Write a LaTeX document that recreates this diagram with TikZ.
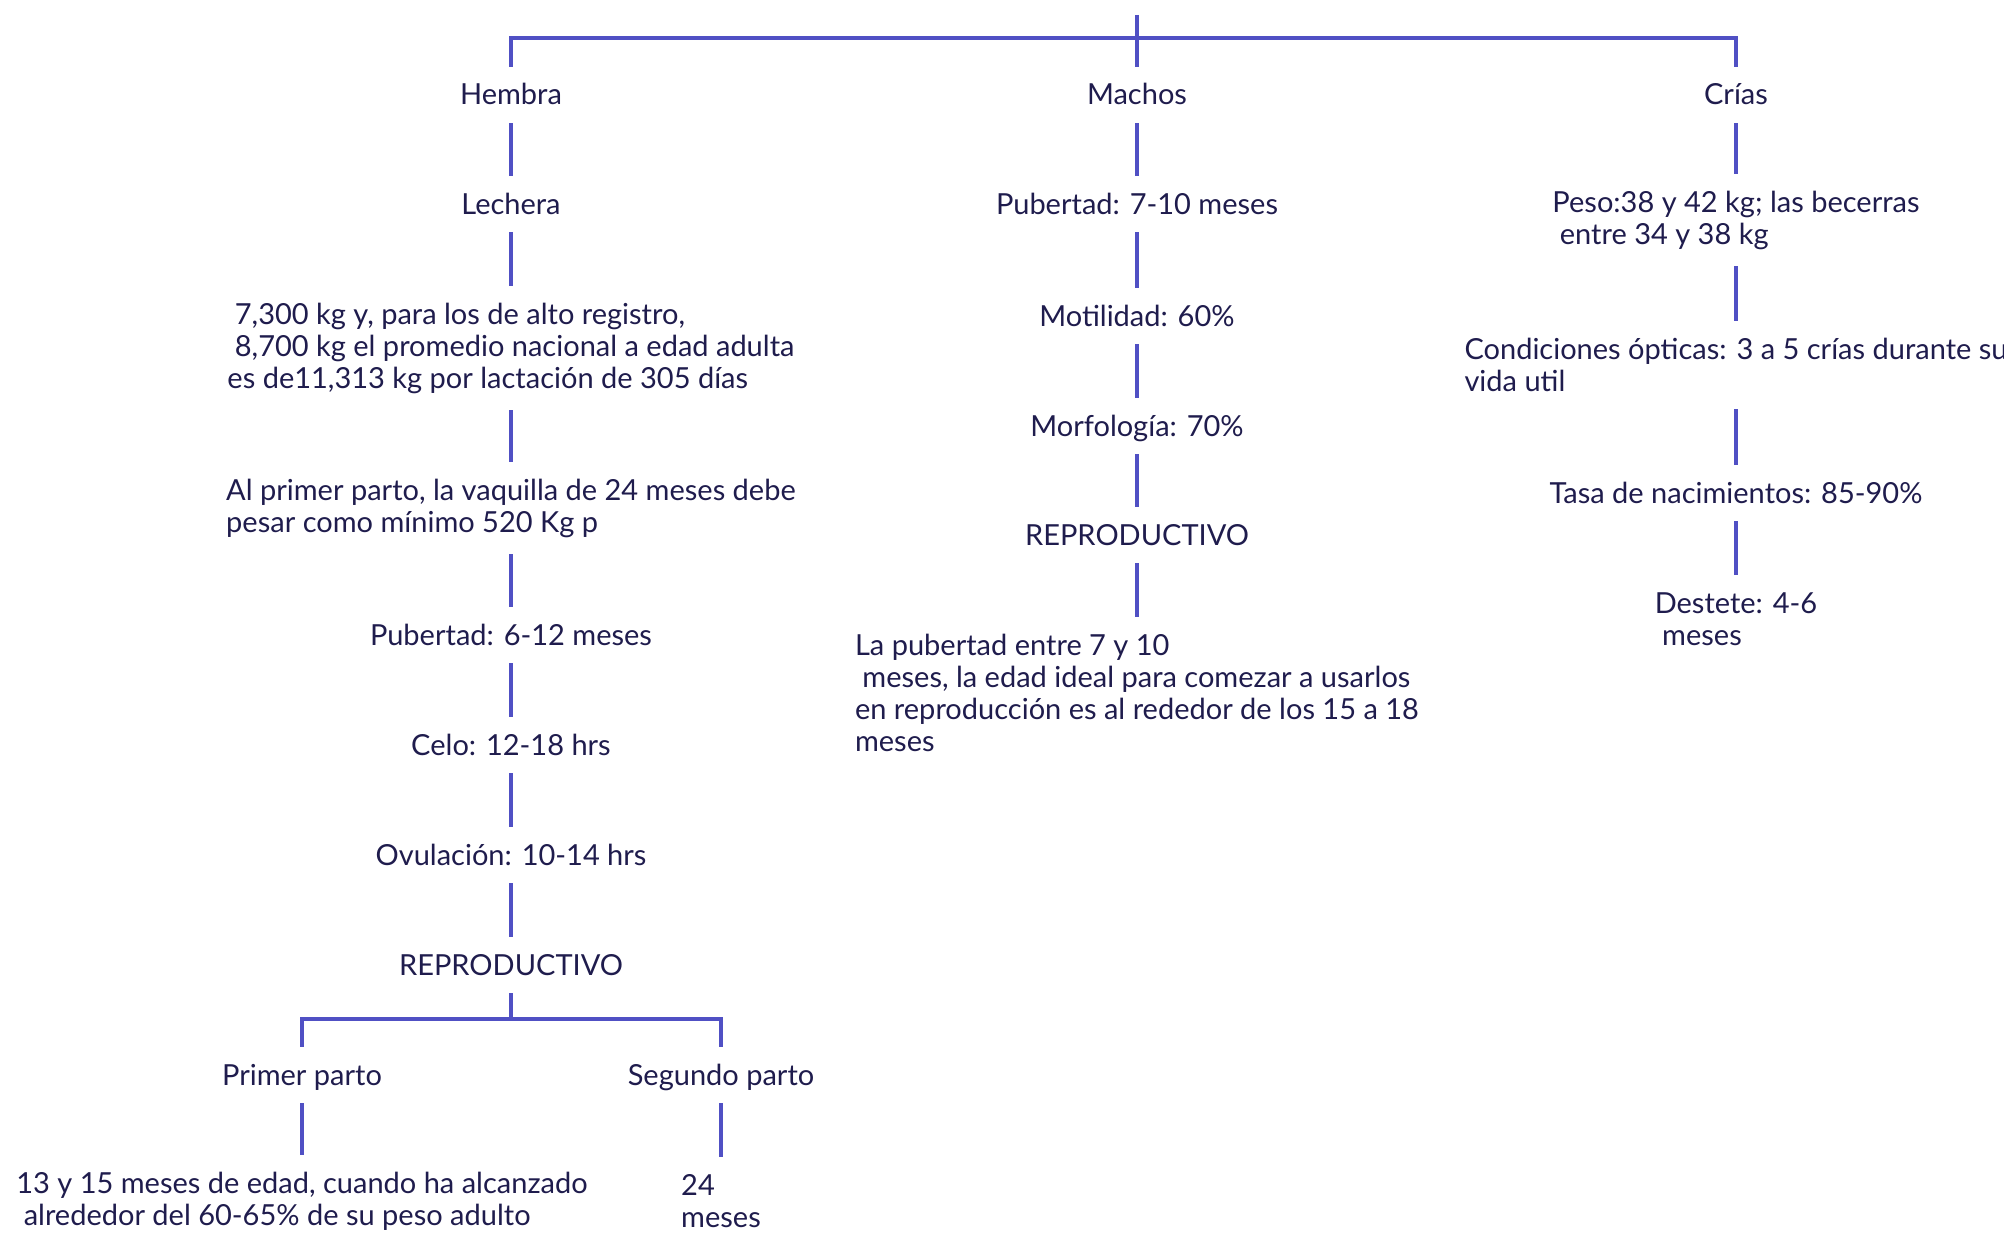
\documentclass[tikz,border=0pt]{standalone}
\usepackage{fontspec}
\setmainfont{Lato}
\definecolor{linea}{HTML}{5050C4}
\definecolor{texto}{HTML}{1F1C4D}
\newcommand{\ta}{\rule{0pt}{11pt}}
\newcommand{\tb}{\rule[-1pt]{0pt}{1pt}}

\begin{document}
\begin{tikzpicture}[x=0.5pt,y=-0.5pt,
	txt/.style={text=texto,font=\fontsize{14.5pt}{16pt}\selectfont,inner xsep=0pt,inner ysep=8pt},
	one/.style={txt,text height=11pt,text depth=1pt},
	blk/.style={txt,align=left},
	conn/.style={draw=linea,line width=2pt}]
	\useasboundingbox (0,0) rectangle (2004,1247);
	
	\coordinate (root) at (1137,15);
	\coordinate (split) at (1137,38);
	
	\node[one] (hembra) at (511,95) {Hembra};
	\node[one] (machos) at (1137,95) {Machos};
	\node[one] (crias) at (1736,95) {Crías};
	
	\node[one] (lechera) at (511,204) {Lechera};
	\node[blk] (produccion) at (511,348) {\ta\ 7,300 kg y, para los de alto registro,\\\ 8,700 kg el promedio nacional a edad adulta\\es de11,313 kg por lactación de 305 días\tb};
	\node[blk] (vaquilla) at (511,508) {\ta Al primer parto, la vaquilla de 24 meses debe\\pesar como mínimo 520 Kg p\tb};
	\node[one] (pubh) at (511,635) {Pubertad: 6-12 meses};
	\node[one] (celo) at (511,745) {Celo: 12-18 hrs};
	\node[one] (ovulacion) at (511,855) {Ovulación: 10-14 hrs};
	\node[one] (reproh) at (511,965) {REPRODUCTIVO};
	\coordinate (rsplit) at (511,1019);
	\node[one] (primer) at (302,1075) {Primer parto};
	\node[one] (segundo) at (721,1075) {Segundo parto};
	\node[blk] (edad1) at (302,1201) {\ta 13 y 15 meses de edad, cuando ha alcanzado\\\ alrededor del 60-65\% de su peso adulto\tb};
	\node[blk] (edad2) at (721,1201) {\ta 24\\meses\tb};
	
	\node[one] (pubm) at (1137,204) {Pubertad: 7-10 meses};
	\node[one] (motilidad) at (1137,316) {Motilidad: 60\%};
	\node[one] (morfologia) at (1137,426) {Morfología: 70\%};
	\node[one] (reprom) at (1137,535) {REPRODUCTIVO};
	\node[blk] (pubertad) at (1137,693) {\ta La pubertad entre 7 y 10\\\ meses, la edad ideal para comezar a usarlos\\en reproducción es al rededor de los 15 a 18\\meses\tb};
	
	\node[blk] (peso) at (1736,220) {\ta Peso:38 y 42 kg; las becerras\\\ entre 34 y 38 kg\tb};
	\node[blk] (condiciones) at (1736,365) {\ta Condiciones ópticas: 3 a 5 crías durante su\\vida util\tb};
	\node[one] (tasa) at (1736,493) {Tasa de nacimientos: 85-90\%};
	\node[blk] (destete) at (1736,619) {\ta Destete: 4-6\\\ meses\tb};
	
	\draw[conn] (hembra) |- (split) -| (crias);
	\draw[conn] (root) -- (machos);
	
	\draw[conn] (hembra) -- (lechera);
	\draw[conn] (lechera) -- (produccion);
	\draw[conn] (produccion) -- (vaquilla);
	\draw[conn] (vaquilla) -- (pubh);
	\draw[conn] (pubh) -- (celo);
	\draw[conn] (celo) -- (ovulacion);
	\draw[conn] (ovulacion) -- (reproh);
	\draw[conn] (reproh) -- (rsplit);
	\draw[conn] (primer) |- (rsplit) -| (segundo);
	\draw[conn] (primer) -- (edad1);
	\draw[conn] (segundo) -- (edad2);
	
	\draw[conn] (machos) -- (pubm);
	\draw[conn] (pubm) -- (motilidad);
	\draw[conn] (motilidad) -- (morfologia);
	\draw[conn] (morfologia) -- (reprom);
	\draw[conn] (reprom) -- (pubertad);
	
	\draw[conn] (crias) -- (peso);
	\draw[conn] (peso) -- (condiciones);
	\draw[conn] (condiciones) -- (tasa);
	\draw[conn] (tasa) -- (destete);
\end{tikzpicture}
\end{document}
